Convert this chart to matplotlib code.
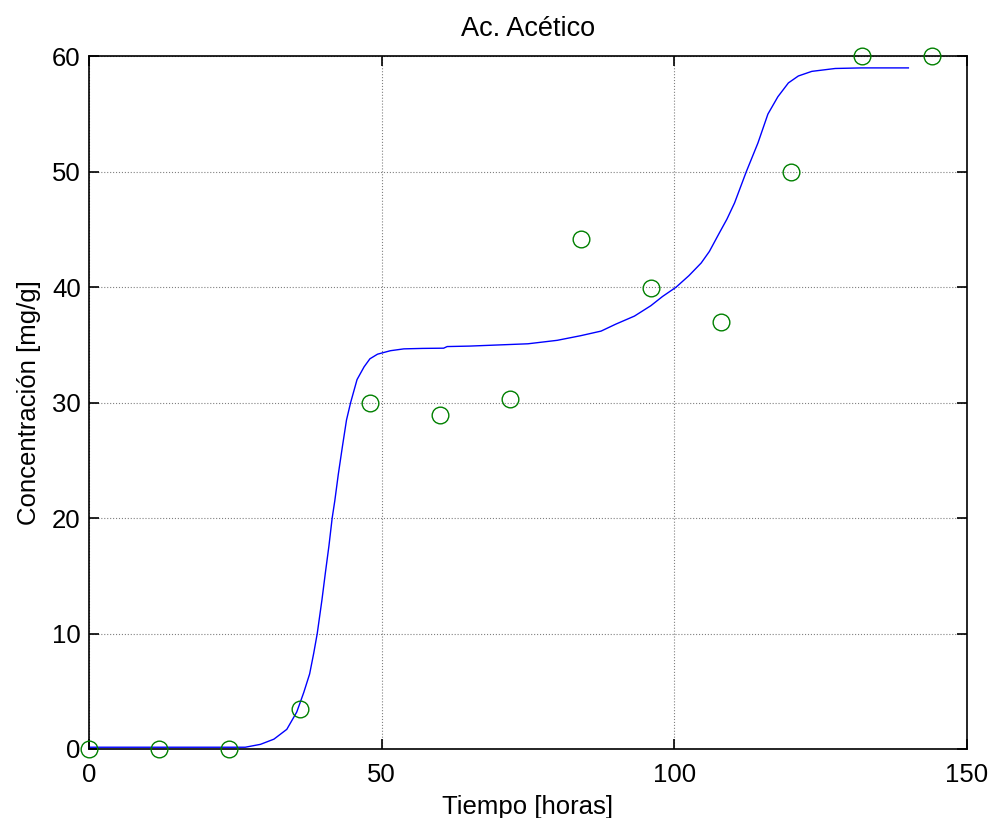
import matplotlib.pyplot as plt

# model curve
t_model = [0, 5, 10, 15, 20, 25, 26.7, 29.3, 31.6, 33.8, 35.5, 36.7, 37.7, 38.4,
           39.0, 39.8, 40.4, 41.0, 41.55, 42.0, 42.6, 43.3, 44.0, 44.7, 45.8, 47.0,
           48.0, 49.3, 51.5, 53.8, 57.0, 60.6, 61.2, 65, 70, 75, 80, 84, 87.5, 90,
           93.2, 96, 98, 100.3, 102.5, 104.6, 106, 107.7, 109, 110.3, 112.3, 114.3,
           116, 117.7, 119.5, 121.2, 123.5, 127.5, 132, 136, 140]
c_model = [0.15, 0.15, 0.15, 0.15, 0.15, 0.15, 0.15, 0.4, 0.85, 1.7, 3.2, 4.9, 6.5, 8.3,
           10.0, 12.9, 15.3, 17.6, 20.0, 21.5, 23.8, 26.2, 28.5, 30.0, 32.0, 33.1,
           33.8, 34.2, 34.5, 34.66, 34.7, 34.72, 34.86, 34.9, 35.0, 35.1, 35.4, 35.8, 36.2, 36.8,
           37.5, 38.4, 39.2, 40.0, 41.0, 42.1, 43.1, 44.7, 45.9, 47.3, 50.0, 52.5,
           55.0, 56.5, 57.7, 58.3, 58.7, 58.95, 59.0, 59.0, 59.0]

# measured points
t_exp = [0, 12, 24, 36, 48, 60, 72, 84, 96, 108, 120, 132, 144]
c_exp = [0, 0, 0, 3.5, 30.0, 28.9, 30.3, 44.2, 39.9, 37.0, 50.0, 60.0, 60.0]

plt.rcParams['font.family'] = ['Liberation Sans', 'DejaVu Sans']

fig = plt.figure(figsize=(9.92, 8.18), dpi=100)
ax = fig.add_axes([0.0897, 0.0844, 0.885, 0.8467])

ax.plot(t_model, c_model, color='b', lw=1.0, clip_on=False)
ax.plot(t_exp, c_exp, 'o', mfc='none', mec='#008000', ms=12, mew=1.0, ls='none',
        clip_on=False, zorder=5)

ax.set_xlim(0, 150)
ax.set_ylim(0, 60)
ax.set_xticks([0, 50, 100, 150])
ax.set_yticks(range(0, 61, 10))
ax.grid(True, color='#808080', ls=':', lw=0.8)
ax.tick_params(direction='in', length=7, width=1.2, top=True, right=True, labelsize=18.5)
ax.tick_params(axis='x', pad=10)
ax.tick_params(axis='y', pad=6)
for s in ax.spines.values():
    s.set_linewidth(1.2)

ax.set_title('Ac. Acético', fontsize=19.5, pad=15)
ax.set_xlabel('Tiempo [horas]', fontsize=18.5, labelpad=6)
ax.set_ylabel('Concentración [mg/g]', fontsize=18.5, labelpad=8)

fig.savefig('out.png', dpi=100)
